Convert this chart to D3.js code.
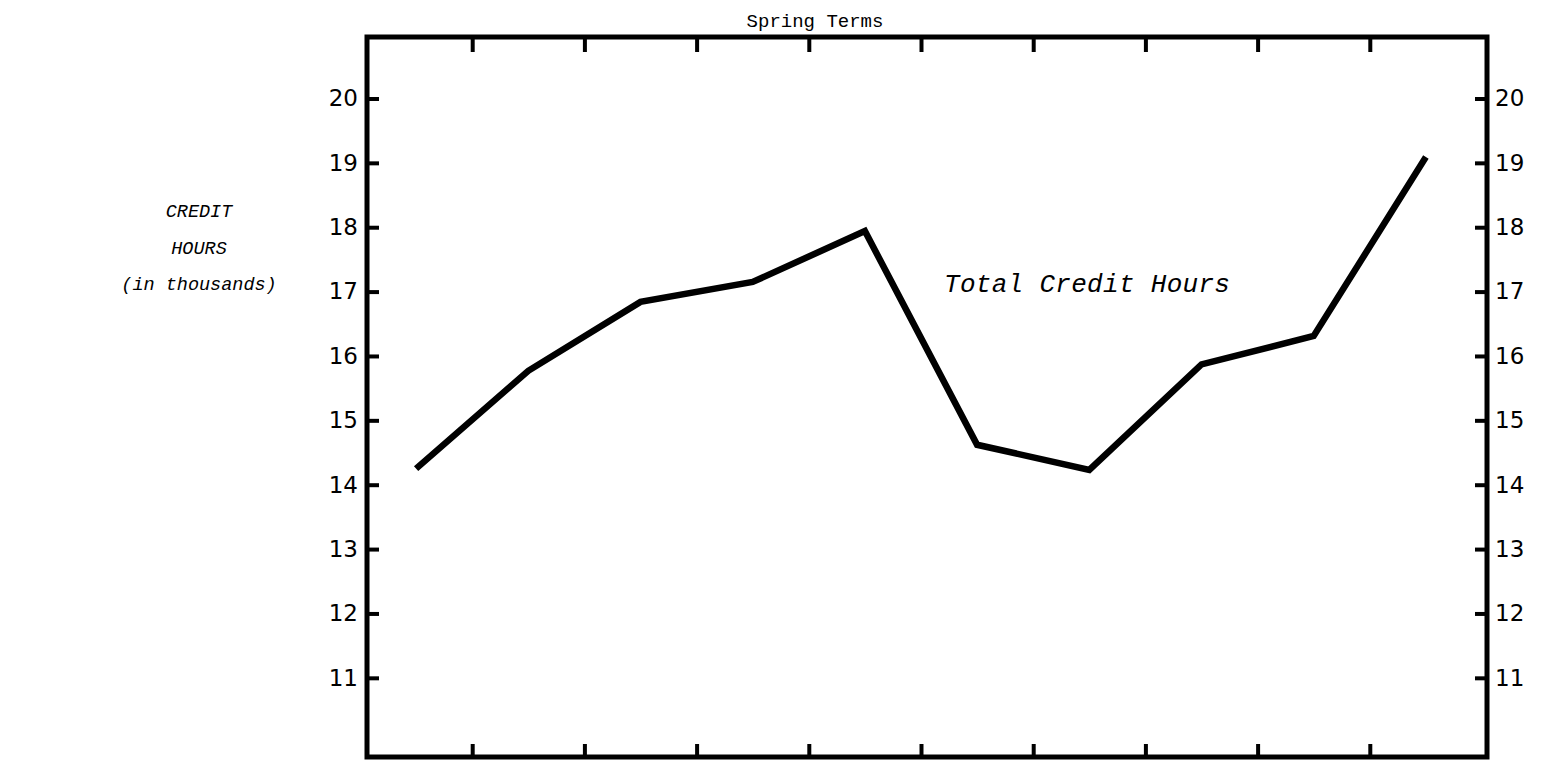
<!DOCTYPE html>
<html>
<head>
<meta charset="utf-8">
<script src="https://cdn.jsdelivr.net/npm/d3@7"></script>
<style>
  html, body { margin: 0; padding: 0; background: #fff; }
  svg { display: block; }
</style>
</head>
<body>
<svg id="chart" width="1542" height="761"></svg>
<script>
// ---- data ----
const terms = ["Term 1","Term 2","Term 3","Term 4","Term 5","Term 6","Term 7","Term 8","Term 9","Term 10"];
const creditHours = [14.25, 15.77, 16.84, 17.15, 17.94, 14.62, 14.23, 15.87, 16.31, 19.09]; // thousands
const yTickValues = [11, 12, 13, 14, 15, 16, 17, 18, 19, 20];
const xTickValues = [1, 2, 3, 4, 5, 6, 7, 8, 9];
const titleText = "Spring Terms";
const yLabelLines = ["CREDIT", "HOURS", "(in thousands)"];
const seriesLabel = "Total Credit Hours";

// ---- layout ----
const W = 1542, H = 761;
const frame = { left: 367, right: 1487, top: 37, bottom: 757 };

const svg = d3.select("#chart");

const x = d3.scaleLinear().domain([0, terms.length]).range([360, 1482]);
const y = d3.scaleLinear().domain([9.77, 20.955]).range([frame.bottom, frame.top]);

const numFont = "'DejaVu Sans', sans-serif";
const monoFont = "'Liberation Mono', 'Courier New', monospace";

// left axis (ticks pointing inward)
const gL = svg.append("g").attr("transform", `translate(${frame.left},0)`)
  .call(d3.axisLeft(y).tickValues(yTickValues).tickSize(-12).tickPadding(9).tickFormat(d3.format("d")));
// right axis
const gR = svg.append("g").attr("transform", `translate(${frame.right},0)`)
  .call(d3.axisRight(y).tickValues(yTickValues).tickSize(-12).tickPadding(8).tickFormat(d3.format("d")));
// top axis
const gT = svg.append("g").attr("transform", `translate(0,${frame.top})`)
  .call(d3.axisTop(x).tickValues(xTickValues).tickSize(-15).tickFormat(""));
// bottom axis
const gB = svg.append("g").attr("transform", `translate(0,${frame.bottom})`)
  .call(d3.axisBottom(x).tickValues(xTickValues).tickSize(-13).tickFormat(""));

[gL, gR, gT, gB].forEach(g => {
  g.select(".domain").remove();
  g.selectAll(".tick line").attr("stroke", "#000").attr("stroke-width", 4);
  g.selectAll(".tick text").attr("fill", "#000").style("font-family", numFont).style("font-size", "23px");
});

// frame
svg.append("rect")
  .attr("x", frame.left).attr("y", frame.top)
  .attr("width", frame.right - frame.left).attr("height", frame.bottom - frame.top)
  .attr("fill", "none").attr("stroke", "#000").attr("stroke-width", 5);

// series line
const line = d3.line()
  .x((d, i) => x(i + 0.5))
  .y(d => y(d));
svg.append("path")
  .datum(creditHours)
  .attr("d", line)
  .attr("fill", "none")
  .attr("stroke", "#000")
  .attr("stroke-width", 6.5)
  .attr("stroke-linejoin", "miter")
  .attr("stroke-linecap", "butt");

// title
svg.append("text")
  .attr("x", 815)
  .attr("y", 27)
  .attr("text-anchor", "middle")
  .style("font-family", monoFont)
  .style("font-size", "19px")
  .attr("fill", "#000")
  .text(titleText);

// series label
svg.append("text")
  .attr("x", 944)
  .attr("y", 292)
  .style("font-family", monoFont)
  .style("font-style", "italic")
  .style("font-size", "26px")
  .style("letter-spacing", "0.3px")
  .attr("fill", "#000")
  .text(seriesLabel);

// y label lines
const yLabelY = [217, 254, 290];
svg.selectAll("text.ylab")
  .data(yLabelLines)
  .join("text")
  .attr("class", "ylab")
  .attr("x", 199)
  .attr("y", (d, i) => yLabelY[i])
  .attr("text-anchor", "middle")
  .style("font-family", monoFont)
  .style("font-style", "italic")
  .style("font-size", "18.5px")
  .attr("fill", "#000")
  .text(d => d);
</script>
</body>
</html>
